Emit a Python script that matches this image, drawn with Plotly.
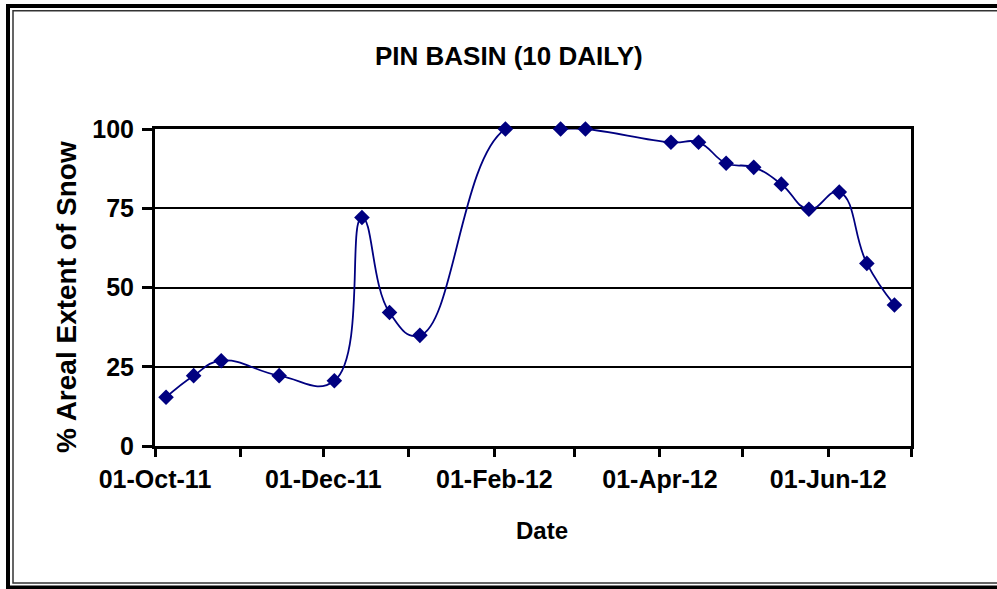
import plotly.graph_objects as go

# ---- data ----
dates = ["2011-10-05", "2011-10-15", "2011-10-25", "2011-11-15", "2011-12-05",
         "2011-12-15", "2011-12-25", "2012-01-05", "2012-02-05", "2012-02-25",
         "2012-03-05", "2012-04-05", "2012-04-15", "2012-04-25", "2012-05-05",
         "2012-05-15", "2012-05-25", "2012-06-05", "2012-06-15", "2012-06-25"]
snow_pct = [15.4, 22.2, 26.9, 22.2, 20.6,
            72.1, 42.1, 34.9, 100, 100,
            100, 95.8, 95.8, 89.2, 87.9,
            82.6, 74.7, 80.1, 57.6, 44.5]
y_ticks = [0, 25, 50, 75, 100]
title_text = "PIN BASIN (10 DAILY)"
x_title = "Date"
y_title = "% Areal Extent of Snow"

# ---- layout geometry (pixels) ----
W, H = 997, 589
L, R, T, B = 155, 911, 129, 446
PW, PH = R - L, B - T

def px(x):
    return (x - L) / PW

def py(y):
    return (B - y) / PH

FONT = "Liberation Sans, Arial, sans-serif"
NAVY = "#000080"

fig = go.Figure()
fig.add_trace(go.Scatter(
    x=dates, y=snow_pct, mode="lines+markers",
    line=dict(color=NAVY, width=1.8, shape="spline", smoothing=1.3),
    marker=dict(symbol="diamond", size=12, color=NAVY, line=dict(width=0)),
    cliponaxis=False, showlegend=False, hoverinfo="x+y",
))

fig.update_layout(
    width=W, height=H,
    margin=dict(l=L, r=W - R, t=T, b=H - B, pad=0),
    paper_bgcolor="white", plot_bgcolor="white",
    font=dict(family=FONT, color="black", size=24, weight="bold"),
    showlegend=False,
)

fig.update_xaxes(
    type="date", range=["2011-10-01", "2012-07-01"],
    tick0="2011-10-01", dtick="M2", tickformat="%d-%b-%y",
    ticks="outside", ticklen=8, tickwidth=3, tickcolor="black",
    minor=dict(dtick="M1", ticks="outside", ticklen=8, tickwidth=3, tickcolor="black", showgrid=False),
    showgrid=False, zeroline=False,
    showline=True, linewidth=3, linecolor="black", mirror=True,
    tickfont=dict(family=FONT, size=25, color="black", weight="bold"),
    ticklabelstandoff=1,
    automargin=False, layer="below traces",
)
fig.update_yaxes(
    range=[0, 100], tickvals=y_ticks,
    ticks="outside", ticklen=10, tickwidth=3, tickcolor="black",
    showgrid=True, gridcolor="black", gridwidth=2,
    zeroline=False,
    showline=True, linewidth=3, linecolor="black", mirror=True,
    tickfont=dict(family=FONT, size=25, color="black", weight="bold"),
    ticklabelstandoff=3,
    automargin=False, layer="below traces",
)

annots = [
    dict(text=title_text, x=px(508.5), y=py(56), font=dict(size=26)),
    dict(text=x_title, x=px(541.5), y=py(530), font=dict(size=24)),
    dict(text=y_title, x=px(66), y=py(297), textangle=-90, font=dict(size=28)),
]
for a in annots:
    fig.add_annotation(xref="paper", yref="paper", showarrow=False,
                       xanchor="center", yanchor="middle",
                       **{k: v for k, v in a.items() if k != "font"},
                       font=dict(family=FONT, color="black", weight="bold", **a["font"]))

# double frame around the chart (right side runs off the canvas, as in the reference)
fig.add_shape(type="rect", xref="paper", yref="paper",
              x0=px(8), x1=px(1015), y0=py(587.5), y1=py(6),
              line=dict(color="black", width=4), layer="below")
fig.add_shape(type="rect", xref="paper", yref="paper",
              x0=px(13), x1=px(1015), y0=py(583), y1=py(10.8),
              line=dict(color="#333333", width=1.5), layer="below")

fig.write_html("out.html",
               config={"displayModeBar": False},
               post_script="document.body.style.margin='0';document.body.style.overflow='hidden';")
